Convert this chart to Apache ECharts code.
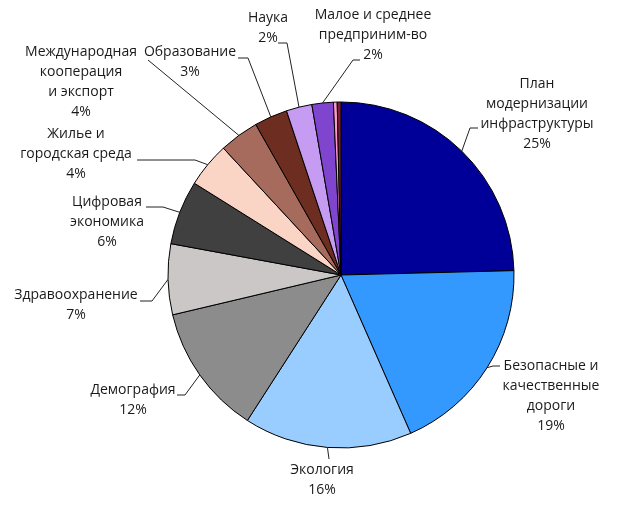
<!DOCTYPE html>
<html>
<head>
<meta charset="utf-8">
<style>
  html, body { margin: 0; padding: 0; background: #fff; }
  #chart-container { width: 620px; height: 511px; }
</style>
<script src="https://cdn.jsdelivr.net/npm/echarts@6/dist/echarts.min.js"></script>
</head>
<body>
<div id="chart-container"></div>
<script>
// Категории (по часовой стрелке от 12 часов)
const categories = [
  'План\nмодернизации\nинфраструктуры',
  'Безопасные и\nкачественные\nдороги',
  'Экология',
  'Демография',
  'Здравоохранение',
  'Цифровая\nэкономика',
  'Жилье и\nгородская среда',
  'Международная\nкооперация\nи экспорт',
  'Образование',
  'Наука',
  'Малое и среднее\nпредприним-во',
  'Прочее 1',
  'Прочее 2'
];

// Доли, % (оценка по рисунку)
const values = [24.6, 18.8, 15.7, 12.2, 6.6, 6.0, 4.2, 3.7, 3.1, 2.4, 2.0, 0.35, 0.35];

const colors = [
  '#000099', '#3399ff', '#99ccff', '#8c8c8c', '#cbc7c7', '#404040',
  '#fad5c6', '#a76b5d', '#6d2d20', '#c69cf3', '#7f45cf', '#ff99cc', '#7a1f3a'
];

// Позиции подписей (центр блока текста) и изгиб выносных линий
const labelPos = [
  [537, 114], [551, 396], [322, 480], [133, 400], [76, 305], [107, 222],
  [76, 154], [81, 82], [190, 62], [268, 28], [373, 35]
];
const linePoints = [
  [[470, 128], [478, 128]],
  [[493, 366], [500, 366]],
  [[329, 459], [329, 459]],
  [[185, 395], [177, 395]],
  [[152, 301], [140, 301]],
  [[163, 207], [146, 207]],
  [[195, 160], [137, 160]],
  [[148, 60], [148, 60]],
  [[248, 58], [238, 58]],
  [[287, 43], [278, 43]],
  [[353, 60], [360, 60]]
];

let myChart = echarts.init(document.getElementById('chart-container'), null, {
  renderer: 'canvas'
});

const pieData = categories.map((name, i) => ({
  name: name,
  value: values[i],
  itemStyle: { color: colors[i] },
  label: { show: i < labelPos.length },
  labelLine: { show: i < labelPos.length }
}));

const opciones = {
  animation: false,
  series: [{
    type: 'pie',
    center: [341, 275],
    radius: 173,
    startAngle: 90,
    clockwise: true,
    avoidLabelOverlap: false,
    data: pieData,
    itemStyle: {
      borderColor: '#000',
      borderWidth: 1
    },
    label: {
      position: 'outside',
      fontFamily: 'Open Sans',
      fontSize: 14,
      lineHeight: 20,
      color: '#1a1a1a',
      align: 'center',
      formatter: (p) => p.name + '\n' + Math.round(p.value) + '%'
    },
    labelLine: {
      show: true,
      length: 10,
      length2: 10,
      lineStyle: { color: '#222', width: 1 }
    },
    emphasis: { disabled: true },
    labelLayout: function (params) {
      const i = params.dataIndex;
      if (i >= labelPos.length) return {};
      const start = params.labelLinePoints ? params.labelLinePoints[0] : linePoints[i][0];
      return {
        x: labelPos[i][0],
        y: labelPos[i][1],
        align: 'center',
        verticalAlign: 'middle',
        labelLinePoints: [start, linePoints[i][0], linePoints[i][1]]
      };
    }
  }]
};

myChart.setOption(opciones);
window.addEventListener('resize', myChart.resize);
</script>
</body>
</html>
